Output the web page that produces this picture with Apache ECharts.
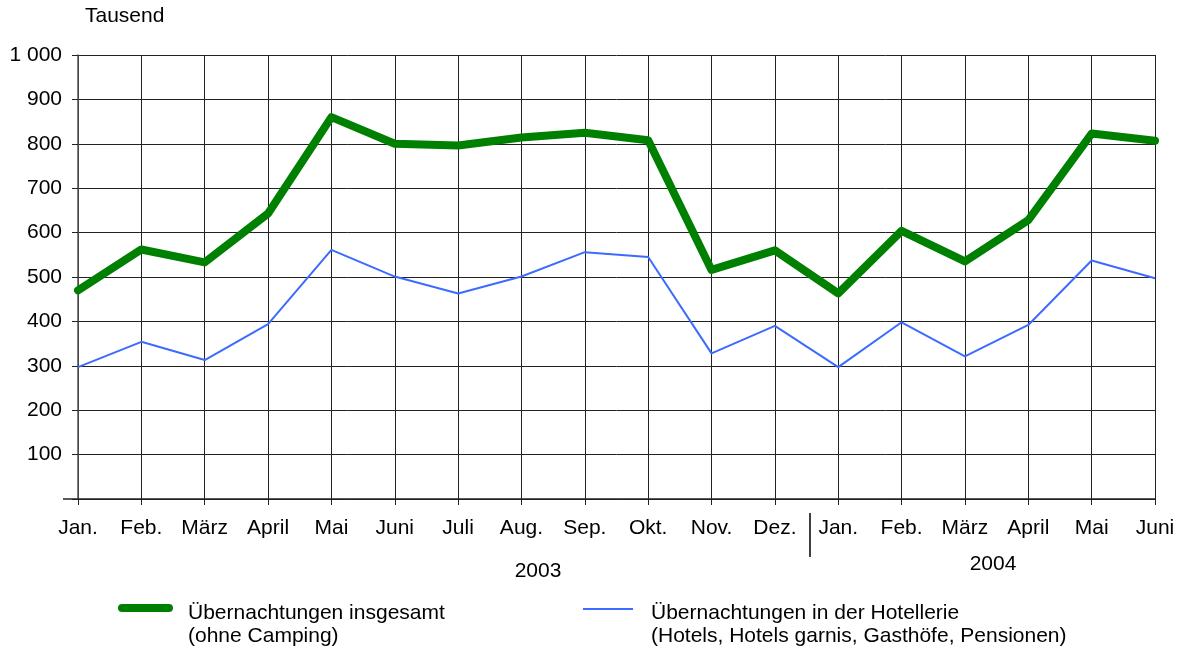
<!DOCTYPE html>
<html>
<head>
<meta charset="utf-8">
<script src="https://cdn.jsdelivr.net/npm/echarts@6/dist/echarts.min.js"></script>
<style>
  html, body { margin: 0; padding: 0; background: #fff; }
  #chart { width: 1185px; height: 653px; }
</style>
</head>
<body>
<div id="chart"></div>
<script>
// Monate Jan. 2003 bis Juni 2004
const months = ['Jan.', 'Feb.', 'März', 'April', 'Mai', 'Juni', 'Juli', 'Aug.', 'Sep.', 'Okt.', 'Nov.', 'Dez.',
  'Jan.', 'Feb.', 'März', 'April', 'Mai', 'Juni']
// Übernachtungen insgesamt (ohne Camping), Tausend
const insgesamt = [470, 562, 533, 643, 860, 800, 796, 814, 825, 808, 516, 560, 463, 604, 535, 628, 823, 807]
// Übernachtungen in der Hotellerie, Tausend
const hotellerie = [297, 354, 313, 394, 561, 501, 463, 501, 556, 545, 328, 390, 297, 398, 321, 392, 537, 497]
const yearLabels = ['2003', '2004']

const font = 'Liberation Sans, Arial, sans-serif'
const fs = 21
const nameA = 'Übernachtungen insgesamt'
const nameB = 'Übernachtungen in der Hotellerie'

// Legendensymbole etwas über der Textmitte (leerer Punkt unten verlängert die Box)
const iconA = 'path://M4 0L51 0A4 4 0 0 1 51 8L4 8A4 4 0 0 1 4 0ZM0 18L0.01 18Z'
const iconB = 'path://M0 0L50 0L50 2L0 2ZM0 10L0.01 10Z'

const chart = echarts.init(document.getElementById('chart'))
const option = {
  animation: false,
  textStyle: { fontFamily: font },
  grid: { left: 78, right: 30, top: 55, bottom: 154, containLabel: false },
  legend: [
    {
      data: [{ name: nameA, icon: iconA }],
      left: 113,
      top: 596,
      itemWidth: 55,
      itemHeight: 18,
      itemGap: 0,
      selectedMode: false,
      textStyle: { fontSize: fs, color: '#000', fontFamily: font, padding: [0, 0, 0, 10], lineHeight: 24 }
    },
    {
      data: [{ name: nameB, icon: iconB }],
      left: 578,
      top: 596,
      itemWidth: 50,
      itemHeight: 10,
      itemGap: 0,
      selectedMode: false,
      textStyle: { fontSize: fs, color: '#000', fontFamily: font, padding: [0, 0, 0, 13], lineHeight: 24 }
    }
  ],
  xAxis: {
    type: 'category',
    boundaryGap: false,
    data: months,
    axisLine: { lineStyle: { color: '#222', width: 1.5 } },
    axisTick: { show: true, length: 6, lineStyle: { color: '#222' } },
    axisLabel: { color: '#000', fontSize: fs, margin: 19, interval: 0, fontFamily: font },
    splitLine: { show: true, lineStyle: { color: '#222', width: 1 } }
  },
  yAxis: {
    type: 'value',
    min: 0,
    max: 1000,
    interval: 100,
    axisLine: { show: true, lineStyle: { color: '#555', width: 1.5 } },
    axisTick: { show: true, length: 6, lineStyle: { color: '#222' } },
    axisLabel: {
      color: '#000',
      fontSize: fs,
      margin: 16,
      fontFamily: font,
      formatter: function (v) {
        if (v === 0) return ''
        if (v >= 1000) return '1 000'
        return String(v)
      }
    },
    splitLine: { show: true, lineStyle: { color: '#222', width: 1 } }
  },
  series: [
    {
      name: nameA,
      type: 'line',
      data: insgesamt,
      symbol: 'none',
      color: '#008000',
      lineStyle: { color: '#008000', width: 8, cap: 'round', join: 'round' },
      z: 3
    },
    {
      name: nameB,
      type: 'line',
      data: hotellerie,
      symbol: 'none',
      color: '#3d6bff',
      lineStyle: { color: '#3d6bff', width: 2 },
      z: 2
    }
  ],
  graphic: [
    { type: 'text', left: 85, top: 6, style: { text: 'Tausend', fontSize: fs, fill: '#000', fontFamily: font } },
    { type: 'text', x: 538, y: 571, style: { text: yearLabels[0], fontSize: fs, fill: '#000', fontFamily: font, align: 'center', verticalAlign: 'middle' } },
    { type: 'text', x: 993, y: 564, style: { text: yearLabels[1], fontSize: fs, fill: '#000', fontFamily: font, align: 'center', verticalAlign: 'middle' } },
    { type: 'line', shape: { x1: 810, y1: 513, x2: 810, y2: 557 }, style: { stroke: '#000', lineWidth: 1.5 } },
    { type: 'line', shape: { x1: 63, y1: 499, x2: 78, y2: 499 }, style: { stroke: '#222', lineWidth: 1.5 } },
    { type: 'text', left: 188, top: 626, style: { text: '(ohne Camping)', fontSize: fs, fill: '#000', fontFamily: font } },
    { type: 'text', left: 651, top: 626, style: { text: '(Hotels, Hotels garnis, Gasthöfe, Pensionen)', fontSize: fs, fill: '#000', fontFamily: font } }
  ]
}
chart.setOption(option)
</script>
</body>
</html>
